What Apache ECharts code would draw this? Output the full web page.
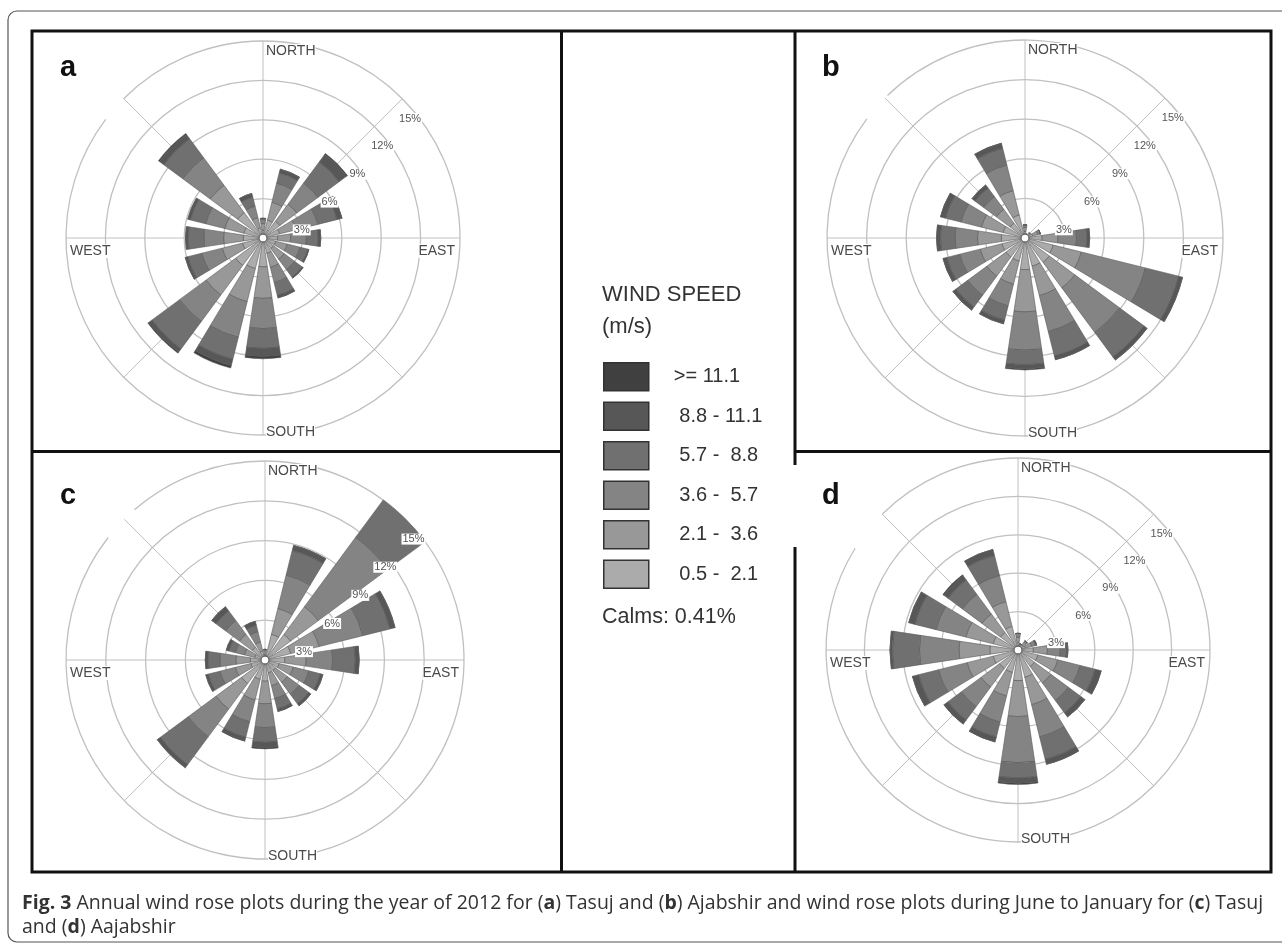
<!DOCTYPE html>
<html>
<head>
<meta charset="utf-8">
<script src="https://cdn.jsdelivr.net/npm/echarts@6/dist/echarts.min.js"></script>
<style>
html, body { margin: 0; padding: 0; background: #fff; }
#main { width: 1282px; height: 946px; }
</style>
</head>
<body>
<div id="main"></div>
<script>
// 16 wind directions, clockwise from north
var directions = ['N', 'NNE', 'NE', 'ENE', 'E', 'ESE', 'SE', 'SSE', 'S', 'SSW', 'SW', 'WSW', 'W', 'WNW', 'NW', 'NNW'];
// speed classes (m/s), lowest first
var speedClasses = ['0.5 - 2.1', '2.1 - 3.6', '3.6 - 5.7', '5.7 - 8.8', '8.8 - 11.1', '>= 11.1'];
// how the legend prints them (padded like the original)
var legendLabels = [' 0.5 -  2.1', ' 2.1 -  3.6', ' 3.6 -  5.7', ' 5.7 -  8.8', ' 8.8 - 11.1', '>= 11.1'];
var ringTicks = [3, 6, 9, 12, 15]; // percent rings

// frequency (%) per class, one row per speed class
// (a) Tasuj, annual 2012
var tasujAnnual = [
    [0.6, 1.4, 1.6, 1.3, 1.1, 1.0, 1.0, 1.2, 2.2, 2.4, 2.6, 1.6, 1.5, 1.5, 2.4, 0.8],
    [0.5, 1.4, 1.6, 1.3, 1.0, 0.9, 1.0, 1.1, 2.4, 2.6, 2.8, 1.6, 1.5, 1.5, 2.6, 0.8],
    [0.3, 1.5, 2.0, 1.7, 1.2, 1.0, 1.0, 1.2, 2.3, 2.8, 2.5, 1.6, 1.5, 1.5, 2.6, 0.9],
    [0.1, 0.8, 2.0, 1.5, 0.9, 0.6, 0.7, 1.0, 1.5, 1.7, 2.6, 1.1, 1.2, 1.2, 1.8, 0.7],
    [0, 0.3, 0.7, 0.4, 0.2, 0.1, 0.1, 0.2, 0.6, 0.5, 0.3, 0.2, 0.2, 0.2, 0.4, 0.3],
    [0, 0, 0.1, 0, 0, 0, 0, 0, 0.2, 0.2, 0.1, 0, 0, 0, 0.1, 0]
];
// (b) Ajabshir, annual 2012
var ajabshirAnnual = [
    [0.5, 0.2, 0.3, 0.6, 1.3, 2.2, 2.3, 2.2, 2.4, 1.8, 1.8, 1.8, 1.8, 1.7, 1.4, 1.8],
    [0.3, 0.1, 0.2, 0.4, 1.2, 2.2, 2.4, 2.3, 3.2, 1.8, 1.8, 1.7, 1.8, 1.7, 1.3, 1.9],
    [0.2, 0, 0, 0.2, 1.4, 5.0, 4.2, 2.8, 2.9, 1.7, 1.8, 1.6, 1.7, 1.6, 1.2, 2.0],
    [0, 0, 0, 0, 0.8, 2.6, 2.3, 1.9, 1.1, 1.1, 1.1, 1.0, 1.1, 1.2, 0.8, 1.3],
    [0, 0, 0, 0, 0.2, 0.3, 0.3, 0.3, 0.3, 0.3, 0.3, 0.3, 0.3, 0.4, 0.3, 0.4],
    [0, 0, 0, 0, 0, 0, 0, 0, 0.1, 0, 0, 0, 0, 0, 0, 0]
];
// (c) Tasuj, June to January
var tasujJunJan = [
    [0.4, 2.0, 2.4, 2.0, 1.5, 1.1, 1.0, 1.0, 1.6, 1.5, 2.2, 1.1, 1.1, 0.8, 1.2, 0.7],
    [0.3, 2.0, 2.6, 2.2, 1.6, 1.1, 1.1, 1.0, 1.7, 1.6, 2.4, 1.2, 1.1, 0.8, 1.2, 0.7],
    [0.1, 2.6, 6.5, 3.4, 2.0, 1.2, 1.1, 1.0, 1.8, 1.7, 2.6, 1.2, 1.2, 0.7, 1.3, 0.8],
    [0, 1.9, 3.6, 2.1, 1.7, 0.9, 0.9, 0.8, 1.1, 1.2, 2.6, 0.9, 0.9, 0.5, 0.9, 0.5],
    [0, 0.4, 0.4, 0.4, 0.3, 0.2, 0.2, 0.2, 0.4, 0.3, 0.3, 0.2, 0.2, 0.2, 0.4, 0.3],
    [0, 0, 0.1, 0, 0, 0, 0, 0, 0.1, 0, 0, 0, 0, 0, 0, 0]
];
// (d) Ajabshir, June to January
var ajabshirJunJan = [
    [0.6, 0.3, 0.5, 0.6, 1.2, 1.6, 1.6, 2.2, 2.4, 1.8, 1.8, 2.0, 2.2, 2.0, 1.7, 1.9],
    [0.4, 0.2, 0.3, 0.5, 1.1, 1.6, 1.6, 2.2, 2.8, 1.9, 1.8, 2.1, 2.4, 2.2, 1.8, 2.0],
    [0.3, 0, 0.1, 0.3, 1.0, 1.8, 1.7, 2.6, 3.6, 2.1, 1.9, 2.3, 3.1, 2.4, 1.9, 2.1],
    [0, 0, 0, 0.1, 0.5, 1.2, 1.2, 1.8, 1.2, 1.2, 1.3, 1.6, 2.1, 1.7, 1.4, 1.6],
    [0, 0, 0, 0, 0.1, 0.5, 0.4, 0.4, 0.4, 0.4, 0.4, 0.5, 0.2, 0.5, 0.4, 0.5],
    [0, 0, 0, 0, 0, 0, 0, 0, 0.1, 0, 0, 0, 0, 0, 0.1, 0]
];

var classColors = ['#ababab', '#989898', '#848484', '#707070', '#575757', '#404040'];

var panels = [
    { letter: 'a', data: tasujAnnual, cx: 263, cy: 238, r: 197, gap: [135, 143] },
    { letter: 'b', data: ajabshirAnnual, cx: 1025, cy: 238, r: 198, gap: [134, 143] },
    { letter: 'c', data: tasujJunJan, cx: 265, cy: 660, r: 199, gap: [131, 142] },
    { letter: 'd', data: ajabshirJunJan, cx: 1018, cy: 650, r: 192, gap: [135, 148] }
];

var dom = document.getElementById('main');
var chart = echarts.init(dom, null, { renderer: 'canvas' });

var polar = [], angleAxis = [], radiusAxis = [], series = [], graphic = [];
var maxR = ringTicks[ringTicks.length - 1];
var labelFont = 'Liberation Sans, Arial, sans-serif';
var ringColor = '#c0c0c0';

panels.forEach(function(p, i) {
    var g = i * 3, b = i * 3 + 1, l = i * 3 + 2;
    // grid polar: rings + compass lines
    polar.push({ center: [p.cx, p.cy], radius: p.r });
    angleAxis.push({
        polarIndex: g, type: 'value', min: 0, max: 360, interval: 45, startAngle: 90,
        axisLine: { show: false }, axisTick: { show: false }, axisLabel: { show: false },
        splitLine: { show: true, lineStyle: { color: ringColor, width: 1 } }
    });
    radiusAxis.push({
        polarIndex: g, type: 'value', min: 0, max: maxR, interval: 3,
        axisLine: { show: false }, axisTick: { show: false }, axisLabel: { show: false },
        splitLine: { show: true, lineStyle: { color: [ringColor, ringColor, ringColor, ringColor, ringColor, 'rgba(0,0,0,0)'], width: 1.3 } }
    });
    // bar polar
    polar.push({ center: [p.cx, p.cy], radius: p.r });
    angleAxis.push({
        polarIndex: b, type: 'category', data: directions, startAngle: 90 + 11.25, boundaryGap: true,
        axisLine: { show: false }, axisTick: { show: false }, axisLabel: { show: false }, splitLine: { show: false }
    });
    radiusAxis.push({
        polarIndex: b, type: 'value', min: 0, max: maxR,
        axisLine: { show: false }, axisTick: { show: false }, axisLabel: { show: false }, splitLine: { show: false }
    });
    // label polar: % labels along NE
    polar.push({ center: [p.cx, p.cy], radius: p.r });
    angleAxis.push({
        polarIndex: l, type: 'value', min: 0, max: 360, startAngle: 45,
        axisLine: { show: false }, axisTick: { show: false }, axisLabel: { show: false }, splitLine: { show: false }
    });
    radiusAxis.push({
        polarIndex: l, type: 'value', min: 0, max: maxR, interval: 3, z: 10,
        axisLine: { show: false }, axisTick: { show: false }, splitLine: { show: false },
        axisLabel: {
            show: true, margin: -28, fontSize: 11, color: '#555', fontFamily: labelFont,
            backgroundColor: '#fff', padding: [0, 1],
            formatter: function(v) { return v ? v + '%' : ''; }
        }
    });

    p.data.forEach(function(row, k) {
        series.push({
            type: 'bar', coordinateSystem: 'polar', polarIndex: b,
            name: speedClasses[k], stack: 'rose' + i, data: row,
            barCategoryGap: '24%', silent: true,
            itemStyle: { color: classColors[k], borderColor: '#5a5a5a', borderWidth: 0.6 }
        });
    });

    // outer ring with the small break on the NW side
    var toRad = Math.PI / 180;
    graphic.push({
        type: 'arc', z: 1,
        shape: { cx: p.cx, cy: p.cy, r: p.r, startAngle: (360 - p.gap[0]) * toRad, endAngle: (720 - p.gap[1]) * toRad, clockwise: true },
        style: { fill: null, stroke: ringColor, lineWidth: 1.3 }
    });
    // calm circle
    graphic.push({
        type: 'circle', z: 50, shape: { cx: p.cx, cy: p.cy, r: 4 },
        style: { fill: '#fff', stroke: '#666', lineWidth: 1.3 }
    });
    // compass words
    var cs = { fontSize: 14, fontFamily: labelFont, fill: '#4a4a4a', backgroundColor: '#fff' };
    graphic.push({ type: 'text', z: 50, style: Object.assign({ text: 'NORTH', x: p.cx + 3, y: p.cy - p.r + 10, align: 'left', verticalAlign: 'middle' }, cs) });
    graphic.push({ type: 'text', z: 50, style: Object.assign({ text: 'SOUTH', x: p.cx + 3, y: p.cy + p.r - 3, align: 'left', verticalAlign: 'middle' }, cs) });
    graphic.push({ type: 'text', z: 50, style: Object.assign({ text: 'WEST', x: p.cx - p.r + 4, y: p.cy + 13, align: 'left', verticalAlign: 'middle' }, cs) });
    graphic.push({ type: 'text', z: 50, style: Object.assign({ text: 'EAST', x: p.cx + p.r - 5, y: p.cy + 13, align: 'right', verticalAlign: 'middle' }, cs) });
});

// panel letters
[['a', 60, 68], ['b', 822, 68], ['c', 60, 496], ['d', 822, 496]].forEach(function(t) {
    graphic.push({
        type: 'text', z: 50,
        style: { text: t[0], x: t[1], y: t[2], align: 'left', verticalAlign: 'middle', fontSize: 29, fontWeight: 'bold', fontFamily: labelFont, fill: '#111' }
    });
});

// frame
var frame = { stroke: '#111', lineWidth: 3 };
graphic.push({ type: 'rect', z: 60, shape: { x: 8, y: 11, width: 1290, height: 931, r: 9 }, style: { fill: null, stroke: '#555', lineWidth: 1.2 } });
graphic.push({ type: 'rect', z: 60, shape: { x: 32, y: 31, width: 1239, height: 841 }, style: { fill: null, stroke: frame.stroke, lineWidth: frame.lineWidth } });
graphic.push({ type: 'line', z: 60, shape: { x1: 561.5, y1: 31, x2: 561.5, y2: 872 }, style: frame });
graphic.push({ type: 'line', z: 60, shape: { x1: 32, y1: 451.5, x2: 561.5, y2: 451.5 }, style: frame });
graphic.push({ type: 'line', z: 60, shape: { x1: 795, y1: 31, x2: 795, y2: 465 }, style: frame });
graphic.push({ type: 'line', z: 60, shape: { x1: 795, y1: 547, x2: 795, y2: 872 }, style: frame });
graphic.push({ type: 'line', z: 60, shape: { x1: 795, y1: 451.5, x2: 1271, y2: 451.5 }, style: frame });

// legend heading and calms
var lg = { fontFamily: labelFont, fill: '#333', align: 'left', verticalAlign: 'middle' };
graphic.push({ type: 'text', z: 50, style: Object.assign({ text: 'WIND SPEED', x: 602, y: 295, fontSize: 22 }, lg) });
graphic.push({ type: 'text', z: 50, style: Object.assign({ text: '(m/s)', x: 602, y: 327, fontSize: 22 }, lg) });
graphic.push({ type: 'text', z: 50, style: Object.assign({ text: 'Calms: 0.41%', x: 602, y: 617, fontSize: 21.5 }, lg) });

// caption
var capFont = { fontSize: 20, fontFamily: 'Open Sans', fill: '#333' };
var capRich = { b: Object.assign({ fontWeight: 'bold' }, capFont) };
graphic.push({
    type: 'text', z: 50, x: 22, y: 903, scaleX: 0.975,
    style: Object.assign({ text: '{b|Fig. 3} Annual wind rose plots during the year of 2012 for ({b|a}) Tasuj and ({b|b}) Ajabshir and wind rose plots during June to January for ({b|c}) Tasuj',
        rich: capRich, align: 'left', verticalAlign: 'middle' }, capFont)
});
graphic.push({
    type: 'text', z: 50, x: 22, y: 927, scaleX: 0.975,
    style: Object.assign({ text: 'and ({b|d}) Aajabshir', rich: capRich, align: 'left', verticalAlign: 'middle' }, capFont)
});

var legendNames = speedClasses.slice().reverse();
var option = {
    animation: false,
    backgroundColor: '#fff',
    polar: polar,
    angleAxis: angleAxis,
    radiusAxis: radiusAxis,
    legend: {
        data: legendNames,
        orient: 'vertical',
        left: 603, top: 362, padding: 0,
        itemWidth: 45, itemHeight: 28, itemGap: 10,
        icon: 'rect',
        selectedMode: false,
        itemStyle: { borderColor: '#333', borderWidth: 1.5 },
        formatter: function(name) { return legendLabels[speedClasses.indexOf(name)]; },
        textStyle: { fontSize: 20, color: '#333', fontFamily: labelFont, padding: [0, 0, 0, 20] }
    },
    series: series,
    graphic: graphic
};
chart.setOption(option);
</script>
</body>
</html>
